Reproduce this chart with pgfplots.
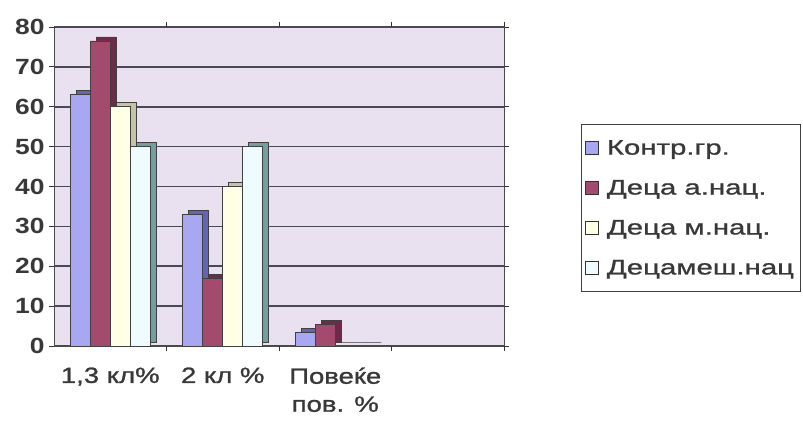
\documentclass[border=0pt]{standalone}
\usepackage{fontspec}
\setmainfont{Liberation Sans}[FakeStretch=1.25, FakeBold=1.2]
\newfontfamily\tickfont{Liberation Sans Bold}[FakeStretch=1.2]
\newfontfamily\legendfont{Liberation Sans}[FakeStretch=1.4, FakeBold=1.0]
\usepackage{pgfplots}
\pgfplotsset{compat=1.18}

\definecolor{wall}{HTML}{EAE1F0}
\definecolor{gridc}{HTML}{4A4858}
\definecolor{txt}{HTML}{383838}
\definecolor{kontr}{HTML}{A8A8F2}
\definecolor{kontrD}{HTML}{6464B4}
\definecolor{anac}{HTML}{A34A6E}
\definecolor{anacD}{HTML}{6E2A48}
\definecolor{mnac}{HTML}{FFFFE6}
\definecolor{mnacD}{HTML}{C4C4A4}
\definecolor{mesh}{HTML}{EEFCFF}
\definecolor{meshD}{HTML}{72A0A0}

% shares per group: 1,3 kl / 2 kl / more / (empty slot)
\pgfplotsset{
  frontbar/.style={ybar, bar width=20pt, fill=#1, draw=black!75, line width=0.8pt},
  backbar/.style={ybar, bar width=20pt, fill=#1, draw=black!75, line width=0.8pt,
                  xshift=6pt, yshift=4pt, forget plot},
}

\begin{document}
\begin{tikzpicture}
\useasboundingbox (0,0) rectangle (803pt,421pt);
\begin{axis}[
  at={(54pt,75pt)}, anchor=south west,
  scale only axis, width=450pt, height=319pt,
  xmin=-0.5, xmax=3.5, ymin=0, ymax=80,
  axis background/.style={fill=wall},
  axis line style={draw=black!70, line width=1pt},
  ytick={0,10,...,80},
  ymajorgrids, grid style={draw=gridc, line width=1.6pt},
  tick align=outside, major tick length=5pt,
  tick style={draw=black!80, line width=1pt},
  yticklabel style={font=\tickfont\fontsize{22}{22}\selectfont, text=txt, xshift=-1pt},
  /pgf/number format/assume math mode=true,
  xtick={0,1,2}, xticklabels={{1,3 кл\%},{2 кл \%},{Повеќе\\пов. \%}},
  xtick style={draw=none},
  xticklabel style={font=\fontsize{22}{28}\selectfont, text=txt, align=center, yshift=-13pt},
  extra x ticks={0.5,1.5,2.5,3.5}, extra x tick labels={},
  extra x tick style={xtick style={draw=black!80, line width=1pt}, xmajorgrids=false},
  legend style={at={(1.171,0.697)}, anchor=north west, draw=black!75, line width=1pt,
    fill=white, font=\legendfont\fontsize{21}{24}\selectfont, text=txt,
    row sep=20pt, inner xsep=4pt, inner ysep=14pt, cells={anchor=west}},
  legend image code/.code={\path[draw=none, fill=none] (0pt,0pt) -- (19pt,0pt);
    \draw[#1, draw=black!80, line width=0.8pt] (0pt,-6.5pt) rectangle (13pt,6.5pt);},
]
\addplot[backbar=kontrD, bar shift=-30pt] coordinates {(0,63) (1,33) (2,3.5)};
\addplot[frontbar=kontr, bar shift=-30pt] coordinates {(0,63) (1,33) (2,3.5)};
\addplot[backbar=anacD, bar shift=-10pt] coordinates {(0,76.5) (1,17) (2,5.5)};
\addplot[frontbar=anac, bar shift=-10pt] coordinates {(0,76.5) (1,17) (2,5.5)};
\addplot[backbar=mnacD, bar shift=10pt] coordinates {(0,60) (1,40) (2,0)};
\addplot[frontbar=mnac, bar shift=10pt] coordinates {(0,60) (1,40) (2,0)};
\addplot[backbar=meshD, bar shift=30pt] coordinates {(0,50) (1,50) (2,0)};
\addplot[frontbar=mesh, bar shift=30pt] coordinates {(0,50) (1,50) (2,0)};
\legend{Контр.гр., Деца а.нац., Деца м.нац., Децамеш.нац}
\end{axis}
\end{tikzpicture}
\end{document}
